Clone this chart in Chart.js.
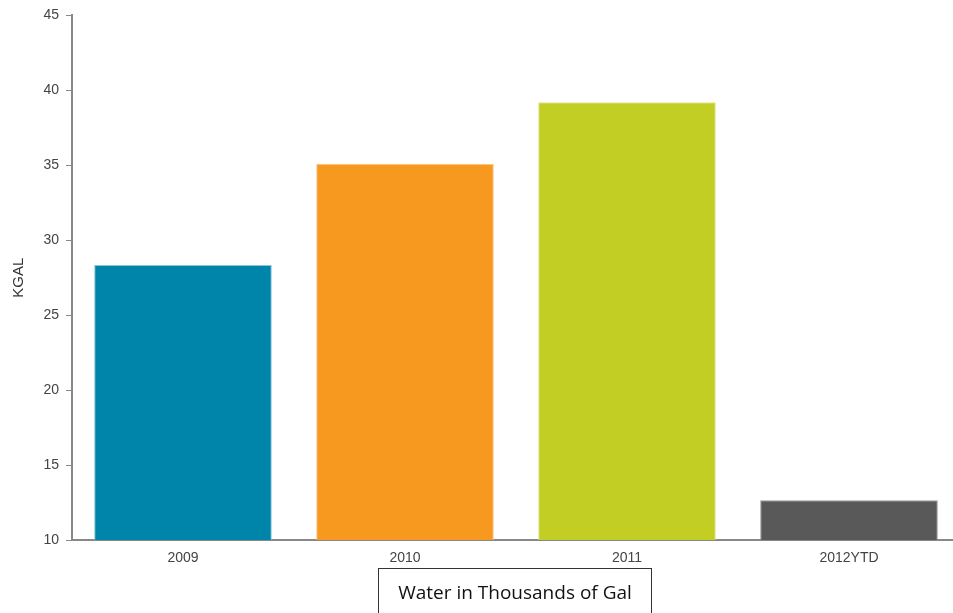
<!DOCTYPE html>
<html>
<head>
<meta charset="utf-8">
<script src="https://cdn.jsdelivr.net/npm/chart.js@4"></script>
<style>
  html, body { margin: 0; padding: 0; background: #fff; overflow: hidden; }
  #wrap { position: relative; width: 960px; height: 613px; }
  #caption {
    position: absolute; left: 378px; top: 568px; width: 274px; height: 60px;
    border: 1px solid #333; box-sizing: border-box;
    font-family: "Open Sans", "Liberation Sans", sans-serif; font-size: 19px; color: #111;
    text-align: center; padding-top: 10px;
  }
</style>
</head>
<body>
<div id="wrap">
  <canvas id="waterChart" width="960" height="613"></canvas>
  <div id="caption">Water in Thousands of Gal</div>
</div>
<script>
const years = ['2009', '2010', '2011', '2012YTD'];
const kgal = [28.35, 35.1, 39.2, 12.65];
const barColors = ['#0085aa', '#f7981f', '#c2ce23', '#595959'];
const edgeColors = ['#8cc4d6', '#fbc88a', '#dfe68e', '#9a9a9a'];

const axisGray = '#888888';
const labelFont = { family: '"Liberation Sans", Arial, sans-serif', size: 14 };

new Chart(document.getElementById('waterChart'), {
  type: 'bar',
  data: {
    labels: years,
    datasets: [{
      label: 'KGAL',
      data: kgal,
      backgroundColor: barColors,
      borderColor: edgeColors,
      borderWidth: 1,
      barPercentage: 0.8,
      categoryPercentage: 1,
    }],
  },
  options: {
    responsive: false,
    animation: false,
    layout: { padding: { top: 15, left: 0, right: 0, bottom: 0 } },
    plugins: {
      legend: { display: false },
      tooltip: { enabled: false },
    },
    scales: {
      x: {
        grid: { display: false, drawTicks: false },
        border: { display: true, color: axisGray, width: 2 },
        ticks: { color: '#444', font: labelFont, padding: 10 },
        afterFit: (s) => { s.height = 73; },
      },
      y: {
        min: 10,
        max: 45,
        grid: { display: true, drawOnChartArea: false, drawTicks: true, tickLength: 6, color: axisGray },
        border: { display: true, color: axisGray, width: 2 },
        ticks: { stepSize: 5, color: '#444', font: labelFont, padding: 7 },
        title: { display: true, text: 'KGAL', color: '#333', font: { family: '"Liberation Sans", Arial, sans-serif', size: 15 }, padding: { top: 10, bottom: 0 } },
        afterFit: (s) => { s.width = 72; },
      },
    },
  },
});
</script>
</body>
</html>
